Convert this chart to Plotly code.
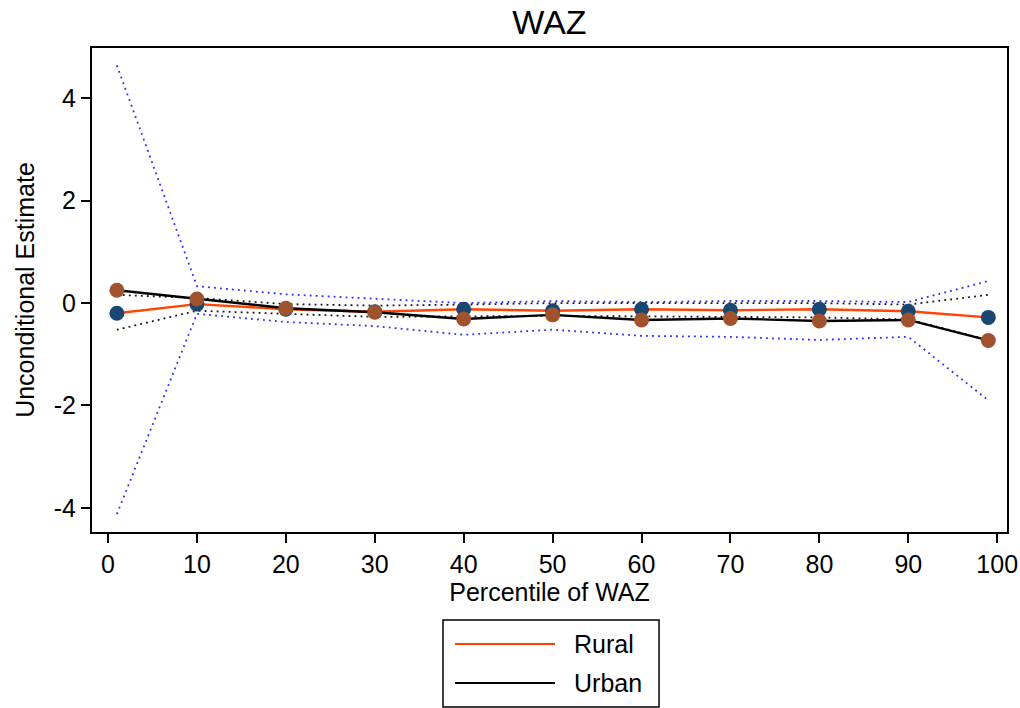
import plotly.graph_objects as go

# ---- data ----
pct = [1, 10, 20, 30, 40, 50, 60, 70, 80, 90, 99]
rural = [-0.20, -0.02, -0.12, -0.17, -0.12, -0.15, -0.12, -0.14, -0.12, -0.16, -0.28]
urban = [0.25, 0.08, -0.10, -0.18, -0.31, -0.23, -0.33, -0.30, -0.35, -0.33, -0.73]
rural_hi = [0.16, 0.10, -0.02, -0.05, -0.03, 0.00, 0.00, 0.00, 0.00, -0.03, 0.16]
rural_lo = [-0.52, -0.15, -0.21, -0.27, -0.26, -0.25, -0.26, -0.27, -0.28, -0.32, -0.72]
urban_hi = [4.64, 0.33, 0.17, 0.08, 0.00, 0.04, 0.02, 0.04, 0.04, 0.02, 0.43]
urban_lo = [-4.12, -0.21, -0.37, -0.45, -0.62, -0.52, -0.64, -0.66, -0.72, -0.66, -1.90]

x_ticks = [0, 10, 20, 30, 40, 50, 60, 70, 80, 90, 100]
y_ticks = [-4, -2, 0, 2, 4]
y_ticktext = ["-4", "-2", "0", "2", "4"]

FONT = "Liberation Sans, Arial, Helvetica, sans-serif"
NAVY = "#1a476f"
SIENNA = "#a0522d"
ORANGE = "#ff4500"
BLUE_DOT = "#2a2aff"
BLACK_DOT = "#111111"

fig = go.Figure()

dotdash = "1.8px,4.2px"
for ys, col in [(urban_hi, BLUE_DOT), (urban_lo, BLUE_DOT), (rural_hi, BLACK_DOT), (rural_lo, BLACK_DOT)]:
    fig.add_trace(go.Scatter(x=pct, y=ys, mode="lines",
                             line=dict(color=col, width=1.8, dash=dotdash),
                             showlegend=False, hoverinfo="skip"))

fig.add_trace(go.Scatter(x=pct, y=rural, mode="lines", name="Rural",
                         line=dict(color=ORANGE, width=2.4), showlegend=False))
fig.add_trace(go.Scatter(x=pct, y=urban, mode="lines", name="Urban",
                         line=dict(color="black", width=2.4), showlegend=False))
fig.add_trace(go.Scatter(x=pct, y=rural, mode="markers", showlegend=False,
                         marker=dict(color=NAVY, size=15, line=dict(width=0))))
fig.add_trace(go.Scatter(x=pct, y=urban, mode="markers", showlegend=False,
                         marker=dict(color=SIENNA, size=15, line=dict(width=0))))

# manual legend (Stata style box with long line samples)
x0, x1 = 0.3836, 0.6197
y0, y1 = -0.1818, -0.3616
fig.add_shape(type="rect", xref="paper", yref="paper", x0=x0, x1=x1, y0=y0, y1=y1,
              line=dict(color="black", width=1.5), fillcolor="white")
legend_items = [("Rural", ORANGE, -0.2314), ("Urban", "black", -0.312)]
for label, col, yy in legend_items:
    fig.add_shape(type="line", xref="paper", yref="paper", x0=0.3967, x1=0.506, y0=yy, y1=yy,
                  line=dict(color=col, width=2))
    fig.add_annotation(text=label, xref="paper", yref="paper", x=0.5246, y=yy,
                       xanchor="left", yanchor="middle", showarrow=False,
                       font=dict(family=FONT, size=25, color="black"))

fig.update_layout(
    width=1020, height=708,
    margin=dict(l=92, r=13, t=48, b=176),
    paper_bgcolor="white", plot_bgcolor="white",
    font=dict(family=FONT, size=25, color="black"),
    title=dict(text="WAZ", x=0.5, xref="paper", xanchor="center",
               y=1 - 22 / 708, yanchor="middle",
               font=dict(family=FONT, size=34, color="black")),
    showlegend=False,
)
fig.update_xaxes(range=[-1.8, 101.1], tickmode="array", tickvals=x_ticks,
                 ticks="outside", ticklen=9, tickwidth=1.5, tickcolor="black",
                 showline=True, linecolor="black", linewidth=2, mirror=True,
                 showgrid=False, zeroline=False, automargin=False,
                 title=dict(text="Percentile of WAZ", standoff=3,
                            font=dict(family=FONT, size=25)),
                 tickfont=dict(family=FONT, size=25))
fig.update_yaxes(range=[-4.47, 4.98], tickmode="array", tickvals=y_ticks, ticktext=y_ticktext,
                 ticks="outside", ticklen=9, tickwidth=1.5, tickcolor="black",
                 showline=True, linecolor="black", linewidth=2, mirror=True,
                 showgrid=False, zeroline=False, automargin=False,
                 title=dict(text="Unconditional Estimate", standoff=12,
                            font=dict(family=FONT, size=25)),
                 tickfont=dict(family=FONT, size=25))

fig.write_html("out.html", config={"displayModeBar": False},
               post_script="document.body.style.margin='0';document.body.style.overflow='hidden';")
